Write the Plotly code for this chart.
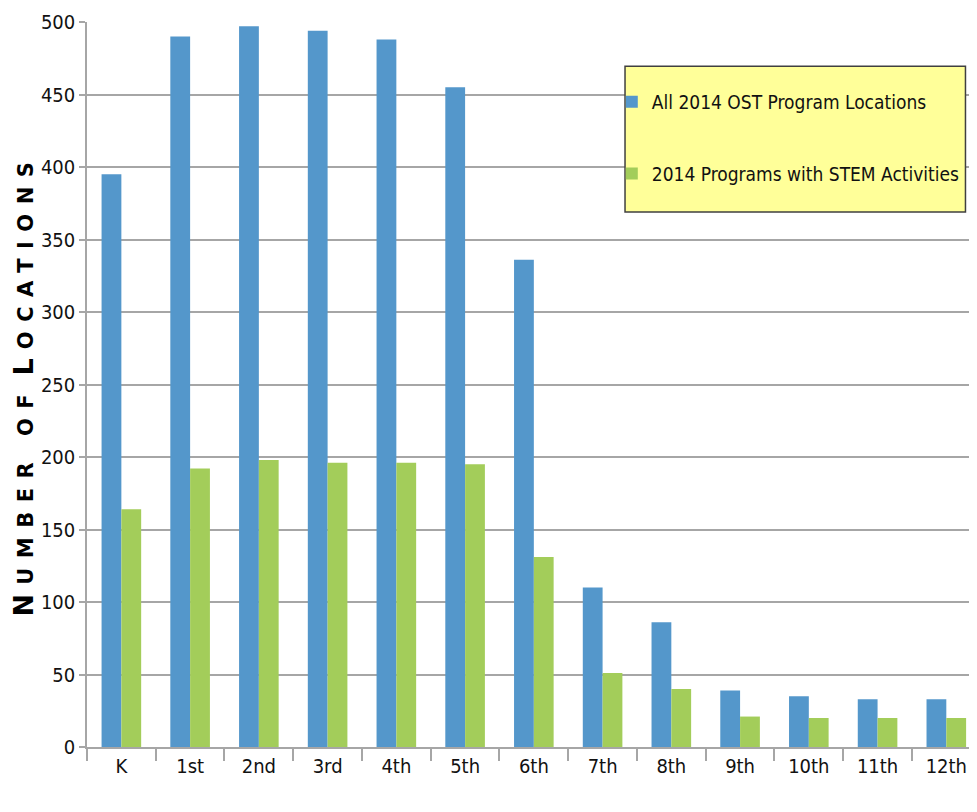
import plotly.graph_objects as go

grades = ["K", "1st", "2nd", "3rd", "4th", "5th", "6th", "7th", "8th", "9th", "10th", "11th", "12th"]
all_locations = [395, 490, 497, 494, 488, 455, 336, 110, 86, 39, 35, 33, 33]
stem_locations = [164, 192, 198, 196, 196, 195, 131, 51, 40, 21, 20, 20, 20]
y_ticks = [0, 50, 100, 150, 200, 250, 300, 350, 400, 450, 500]

font_narrow = "DejaVu Sans Condensed, Liberation Sans Narrow, Liberation Sans, sans-serif"
grid = "#A6A6A6"

fig = go.Figure()
fig.add_trace(go.Bar(x=grades, y=all_locations, name="All 2014 OST Program Locations",
                     marker=dict(color="#5497CB", line=dict(width=0)), legendgroup="a"))
fig.add_trace(go.Bar(x=grades, y=stem_locations, name="2014 Programs with STEM Activities",
                     marker=dict(color="#A3CD5A", line=dict(width=0)), legendgroup="b"))

# legend frame (yellow box behind the legend entries)
fig.add_shape(type="rect", xref="paper", yref="paper", x0=0.61, x1=0.996, y0=0.738, y1=0.939,
              fillcolor="#FFFF99", line=dict(color="#404040", width=1.5), layer="above")

sc = "font-size:21px;letter-spacing:9.5px"
title_txt = (f"<b><span style='letter-spacing:9px'>N</span><span style='{sc}'>UMBER OF</span> "
             f"<span style='letter-spacing:9px'>L</span><span style='{sc}'>OCATIONS</span></b>")

# page body has an 8px margin: shift the figure so the plot lands where the reference has it
fig.update_layout(
    width=961, height=804, autosize=False,
    margin=dict(l=79, r=0, t=14, b=65, autoexpand=False),
    paper_bgcolor="white", plot_bgcolor="white",
    barmode="group", bargap=0.424, bargroupgap=0,
    font=dict(family=font_narrow, size=20, color="#111111"),
    legend=dict(x=0.595, y=0.916, xanchor="left", yanchor="top",
                bgcolor="rgba(0,0,0,0)", borderwidth=0,
                font=dict(family=font_narrow, size=19, color="#111111"),
                tracegroupgap=44, traceorder="grouped", itemwidth=30),
    xaxis=dict(range=[-0.5, 12.33], tickson="boundaries", ticks="outside", ticklen=12,
               tickcolor=grid, tickwidth=1.5, showline=True, linecolor=grid, linewidth=1.5,
               showgrid=False, tickfont=dict(size=20), automargin=False),
    yaxis=dict(range=[0, 500], tickvals=y_ticks, ticks="outside", ticklen=6, tickcolor=grid,
               tickwidth=1.5, showline=True, linecolor=grid, linewidth=1.5,
               showgrid=True, gridcolor=grid, gridwidth=1.5, zeroline=False,
               tickfont=dict(size=20), automargin=False,
               title=dict(text=title_txt,
                          font=dict(family="DejaVu Sans", size=27, color="black"), standoff=6)),
)

fig.write_html("out.html")
